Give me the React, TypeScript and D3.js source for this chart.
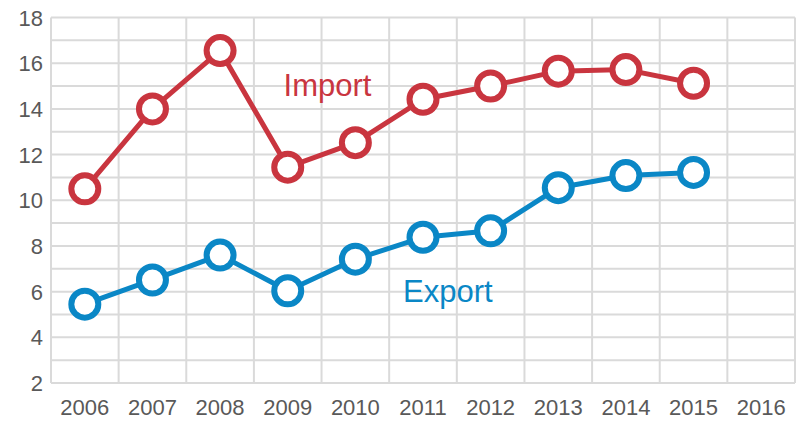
import React from "react";
import * as d3 from "d3";

const years = ["2006","2007","2008","2009","2010","2011","2012","2013","2014","2015","2016"];
const importValues = [10.5, 14.0, 16.55, 11.45, 12.52, 14.42, 15.0, 15.65, 15.72, 15.12];
const exportValues = [5.45, 6.51, 7.6, 6.04, 7.42, 8.38, 8.66, 10.55, 11.08, 11.22];
const yTicks = [2, 4, 6, 8, 10, 12, 14, 16, 18];
const yGrid = d3.range(2, 19, 1);

const W = 796, H = 421;
const left = 51, right = 795, top = 17.5, bottom = 383;
const RED = "#c9353f";
const BLUE = "#0a87c6";
const FONT = "'Liberation Sans', Arial, sans-serif";

export default function App() {
  const x = d3.scaleBand<string>().domain(years).range([left, right]).padding(0);
  const y = d3.scaleLinear().domain([2, 18]).range([bottom, top]);
  const cx = (i: number) => (x(years[i]) as number) + x.bandwidth() / 2;
  const line = d3.line<number>().x((_, i) => cx(i)).y((d) => y(d));
  const bounds = years.map((yr) => x(yr) as number).concat([right]);

  const series = [
    { name: "Import", values: importValues, color: RED, lx: (x("2010") as number) + 6, ly: y(14.58) },
    { name: "Export", values: exportValues, color: BLUE, lx: (x("2012") as number) - 9, ly: y(5.56) },
  ];

  return (
    <svg width={W} height={H} style={{ position: "absolute", left: 0, top: 0 }} fontFamily={FONT}>
      <rect width={W} height={H} fill="#fff" />
      <g stroke="#dadada" strokeWidth={2}>
        {yGrid.map((v) => (
          <line key={"h" + v} x1={left} x2={right} y1={y(v)} y2={y(v)} />
        ))}
        {bounds.map((b, i) => (
          <line key={"v" + i} x1={b} x2={b} y1={top} y2={bottom} />
        ))}
      </g>
      <g fill="#595959" fontSize={22}>
        {yTicks.map((v) => (
          <text key={"yt" + v} x={43} y={y(v) + 8} textAnchor="end">{v}</text>
        ))}
        {years.map((yr, i) => (
          <text key={"xt" + yr} x={cx(i)} y={415} textAnchor="middle">{yr}</text>
        ))}
      </g>
      {series.map((s) => (
        <g key={s.name}>
          <path d={line(s.values) || ""} fill="none" stroke={s.color} strokeWidth={5} strokeLinejoin="round" />
          {s.values.map((v, i) => (
            <circle key={i} cx={cx(i)} cy={y(v)} r={13.5} fill="#fff" stroke={s.color} strokeWidth={6} />
          ))}
          <text x={s.lx} y={s.ly} textAnchor="middle" fill={s.color} fontSize={31}>{s.name}</text>
        </g>
      ))}
    </svg>
  );
}
